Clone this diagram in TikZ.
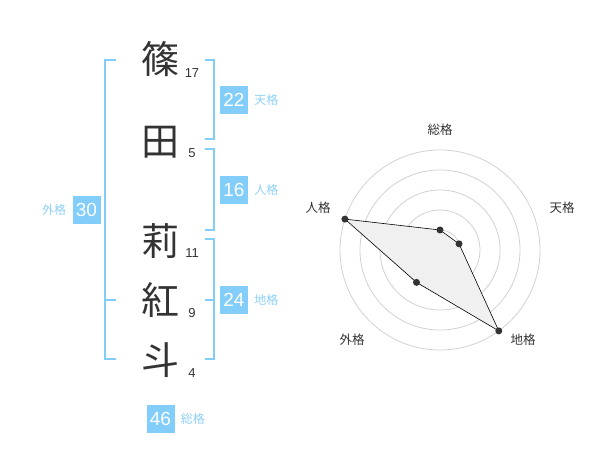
\documentclass[tikz,border=0pt]{standalone}
\usepackage{fontspec}
\setmainfont{Liberation Sans}
\newfontfamily\jp{Noto Sans CJK JP}
\usetikzlibrary{positioning}

\definecolor{skyblue}{HTML}{82CDFA}
\definecolor{skytext}{HTML}{8DD0F7}
\definecolor{inkgray}{HTML}{333333}

\begin{document}
\begin{tikzpicture}[x=1pt, y=-1pt,
    kanji/.style={inner sep=0pt,
    text=inkgray, % Name characters.
    font=\jp\fontsize{38}{38}\selectfont},
    strokes/.style={inner sep=0pt,
    text=inkgray,
    font=\fontsize{13}{13}\selectfont},
    valbox/.style={fill=skyblue,
    text=white,
    minimum size=28pt,
    inner sep=0pt,
    font=\fontsize{19}{19}\selectfont},
    kaku/.style={inner sep=0pt,
    text=skytext,
    font=\jp\fontsize{12}{12}\selectfont},
    brace/.style={draw=skyblue, line width=2pt},
    ring/.style={draw=black!18, line width=0.8pt},
    poly/.style={draw=black, fill=black!6, line width=0.6pt},
    dot/.style={circle, fill=inkgray, minimum size=7pt, inner sep=0pt},
    axislabel/.style={inner sep=0pt,
    text=inkgray,
    font=\jp\fontsize{12.5}{12.5}\selectfont}]

        \useasboundingbox (0,0) rectangle (600,470);

        % Characters and stroke counts.
        \foreach \name/\ch/\y/\ny/\n in {shino/篠/59/73/17, ta/田/142/153/5,
            ri/莉/241/253/11, ko/紅/300/313/9, to/斗/360/373/4}
        {
        \node[kanji] (\name) at (160,\y) {\ch};
        \node[strokes] (n\name) at (192,\ny) {\n};
        }

        % Brackets.
        \draw[brace] (116,60) -- (105,60) -- (105,359) -- (116,359);
        \draw[brace] (105,300) -- (116,300);
        \draw[brace] (205,60) -- (214,60) -- (214,139) -- (205,139);
        \draw[brace] (205,149) -- (214,149) -- (214,230) -- (205,230);
        \draw[brace] (205,239) -- (214,239) -- (214,359) -- (205,359);
        \draw[brace] (214,300) -- (205,300);

        % Value boxes with labels.
        \foreach \name/\val/\x/\y/\txt/\p in {ten/22/234/100/天格/right,
            jin/16/234/190/人格/right, chi/24/234/300/地格/right,
            gai/30/86.5/210/外格/left, sou/46/160.5/419/総格/right}
        {
        \node[valbox] (\name) at (\x,\y) {\val};
        \node[kaku, \p = 6pt of \name] (l\name) {\txt};
        }

        % Radar chart.
        \begin{scope}[shift={(440,250)}, yscale=-1]
        \foreach \r in {20,40,60,80,100}
        \draw[ring] (0,0) circle[radius=\r];
        \node[circle, fill=black!20, minimum size=7pt, inner sep=0pt] (centre) at (0,0) {};
        \coordinate (rsou) at (90:20);
        \coordinate (rten) at (18:20);
        \coordinate (rchi) at (-54:100);
        \coordinate (rgai) at (-126:40);
        \coordinate (rjin) at (162:100);
        \filldraw[poly] (rsou) -- (rten) -- (rchi) -- (rgai) -- (rjin) -- cycle;
        \foreach \c in {rsou, rten, rchi, rgai, rjin}
        \node[dot] (d\c) at (\c) {};
        \end{scope}

        % Axis labels.
        \foreach \name/\txt/\x/\y in {asou/総格/440/130, aten/天格/562/208,
            ajin/人格/318/208, agai/外格/352/340, achi/地格/523/340}
        \node[axislabel] (\name) at (\x,\y) {\txt};
    \end{tikzpicture}
\end{document}
